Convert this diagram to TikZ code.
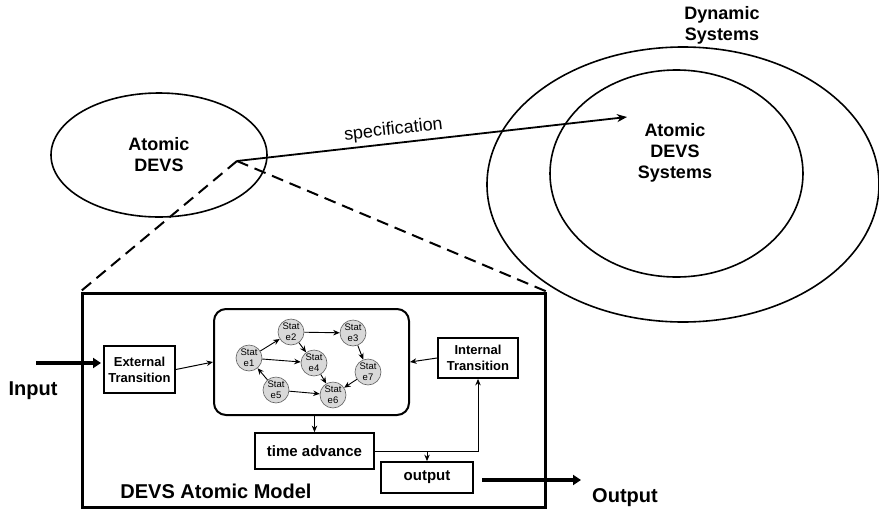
\documentclass[tikz,border=0pt]{standalone}
\usepackage{fontspec}
\setmainfont{Liberation Sans}
\usetikzlibrary{shapes.geometric,arrows.meta,calc}
\begin{document}
\begin{tikzpicture}[x=1pt,y=-1pt,
  lbl/.style={font=\bfseries\fontsize{18}{21}\selectfont, align=center},
  big/.style={font=\bfseries\fontsize{20}{24}\selectfont},
  ell/.style={ellipse, draw, line width=1.6pt, inner sep=0},
  box/.style={draw, line width=1.8pt, font=\bfseries\fontsize{13}{16}\selectfont, align=center, inner sep=0},
  st/.style={circle, draw=gray!75!black, fill=gray!30, minimum size=26pt, inner sep=0, font=\fontsize{9.5}{11}\selectfont, align=center, line width=0.6pt},
  sarr/.style={-{Stealth[length=6.5pt,width=5.5pt]}, line width=0.9pt},
  marr/.style={-{Stealth[length=6.5pt,width=5.5pt]}, line width=1pt},
  tarr/.style={-{Triangle[length=8pt,width=10pt]}, line width=4pt},
  dsh/.style={dashed, dash pattern=on 12pt off 7pt, line width=2pt}
]
\useasboundingbox (0,0) rectangle (879,512);

% top part
\node[ell, minimum width=216pt, minimum height=124pt, lbl] (ad) at (159,155) {Atomic\\DEVS};
\node[ell, minimum width=392pt, minimum height=275pt] (dyn) at (683,184.5) {};
\node[ell, minimum width=253pt, minimum height=207pt] (ads) at (676.5,173.5) {};
\node[lbl] (adst) at (675,153) {Atomic\\DEVS\\Systems};
\node[lbl] (dynt) at (722,25) {Dynamic\\Systems};

\coordinate (src) at (237,161);
\coordinate (tip) at (627,117);
\draw[-{Stealth[length=10pt,width=8pt]}, line width=1.8pt] (src) -- node[pos=0.405, above, sloped, font=\fontsize{18}{21}\selectfont, inner sep=4pt] (spec) {specification} (tip);

% main box
\node[draw, line width=3pt, minimum width=463pt, minimum height=214pt, inner sep=0] (mb) at (313.5,400) {};
\draw[dsh] (src) -- (mb.north west);
\draw[dsh] (src) -- (mb.north east);
\node[big] (mbl) at (216,491) {DEVS Atomic Model};

% inner boxes
\node[box, minimum width=71pt, minimum height=47pt] (et) at (139.5,369.5) {External\\Transition};
\node[box, minimum width=80pt, minimum height=40pt] (it) at (478,358) {Internal\\Transition};
\node[box, minimum width=119pt, minimum height=36pt, font=\bfseries\fontsize{15}{18}\selectfont] (ta) at (314.5,451) {time advance};
\node[box, minimum width=92pt, minimum height=31pt, font=\bfseries\fontsize{15}{18}\selectfont] (out) at (427,477.5) {output};
\node[draw, line width=2pt, rounded corners=12pt, minimum width=195pt, minimum height=106pt, inner sep=0] (sm) at (311.5,362) {};

% states
\node[st] (e1) at (249,358) {Stat\\e1};
\node[st] (e2) at (291,332) {Stat\\e2};
\node[st] (e3) at (353,333) {Stat\\e3};
\node[st] (e4) at (314,363) {Stat\\e4};
\node[st] (e5) at (276,390) {Stat\\e5};
\node[st] (e6) at (333,395) {Stat\\e6};
\node[st] (e7) at (368,372) {Stat\\e7};
\draw[sarr] (e1) -- (e2);
\draw[sarr] (e2) -- (e3);
\draw[sarr] (e2) -- (e4);
\draw[sarr] (e1) -- (e4);
\draw[sarr] (e4) -- (e6);
\draw[sarr] (e3) -- (e7);
\draw[sarr] (e7) -- (e6);
\draw[sarr] (e5) -- (e6);
\draw[sarr] (e5) -- (e1);

% connectors
\draw[marr] (et.east) -- (sm.west);
\draw[marr] (it.west) -- (sm.east);
\draw[marr] (sm.south -| ta.north) -- (ta.north);
\draw[marr] (ta.east) -| (it.south);
\draw[marr] (out.north |- ta.east) -- (out.north);

% input / output
\coordinate (inS) at (36,363);
\coordinate (inE) at (101,363);
\draw[tarr] (inS) -- (inE);
\node[big] (inl) at (33,391) {Input};
\coordinate (outS) at (482,480);
\coordinate (outE) at (581,480);
\draw[tarr] (outS) -- (outE);
\node[big] (outl) at (625,498) {Output};
\end{tikzpicture}
\end{document}
